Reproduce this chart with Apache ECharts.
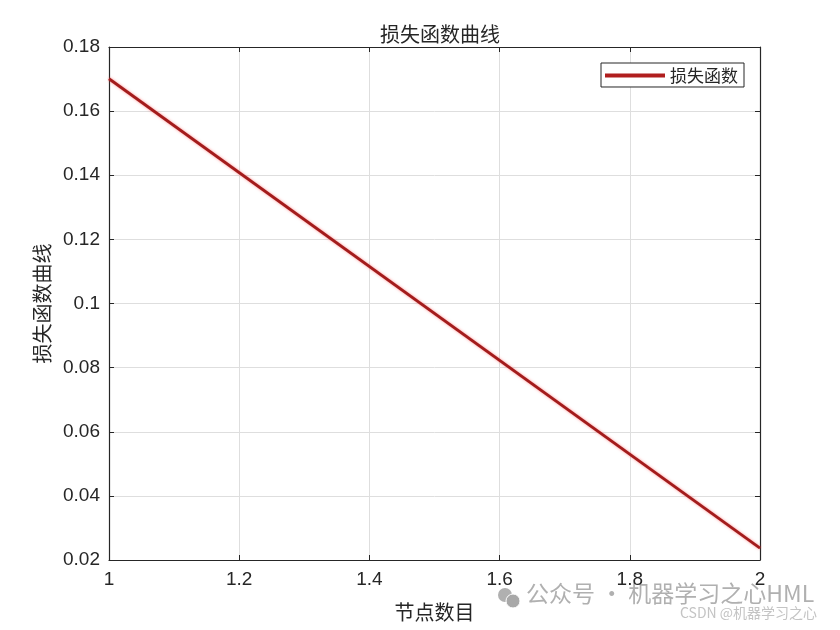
<!DOCTYPE html>
<html>
<head>
<meta charset="utf-8">
<script src="https://cdn.jsdelivr.net/npm/echarts@6/dist/echarts.min.js"></script>
<style>html,body{margin:0;padding:0;background:#fff}#c{width:840px;height:630px}</style>
</head>
<body>
<div id="c"></div>
<script>
const nodeCounts = [1, 2];
const lossValues = [0.1701, 0.0237];
const titleText = '损失函数曲线';
const xName = '节点数目';
const yName = '损失函数曲线';
const seriesName = '损失函数';

const chart = echarts.init(document.getElementById('c'));
const cjk = '"Noto Sans CJK SC", sans-serif';
const latin = '"Liberation Sans", Arial, sans-serif';
const axisColor = '#262626';
chart.setOption({
  backgroundColor: '#fff',
  animation: false,
  title: {
    text: titleText, left: 435, top: 19, textAlign: 'center',
    textStyle: { fontFamily: cjk, fontSize: 20, fontWeight: 'normal', color: '#262626' }
  },
  legend: {
    data: [seriesName], right: 96, top: 63,
    borderColor: axisColor, borderWidth: 1, backgroundColor: '#fff',
    padding: [4, 6, 3, 4], itemWidth: 60, itemHeight: 4, itemGap: 4,
    icon: 'rect',
    textStyle: { fontFamily: cjk, fontSize: 17, color: '#262626' }
  },
  grid: { left: 109, right: 80, top: 47, bottom: 70 },
  xAxis: [{
    type: 'value', min: 1, max: 2, interval: 0.2,
    name: xName, nameLocation: 'middle', nameGap: 42,
    nameTextStyle: { fontFamily: cjk, fontSize: 20, color: '#262626' },
    axisLine: { show: true, lineStyle: { color: axisColor, width: 1.2 } },
    axisTick: { show: true, inside: true, length: 5, lineStyle: { color: axisColor } },
    axisLabel: { fontFamily: latin, fontSize: 19, color: '#262626', margin: 10 },
    splitLine: { show: true, lineStyle: { color: '#dedede', width: 1 } }
  }, {
    type: 'value', min: 1, max: 2, interval: 0.2, position: 'top',
    axisLine: { show: true, lineStyle: { color: axisColor, width: 1.2 } },
    axisTick: { show: true, inside: true, length: 5, lineStyle: { color: axisColor } },
    axisLabel: { show: false }, splitLine: { show: false }
  }],
  yAxis: [{
    type: 'value', min: 0.02, max: 0.18, interval: 0.02,
    name: yName, nameLocation: 'middle', nameGap: 57,
    nameTextStyle: { fontFamily: cjk, fontSize: 20, color: '#262626' },
    axisLine: { show: true, lineStyle: { color: axisColor, width: 1.2 } },
    axisTick: { show: true, inside: true, length: 5, lineStyle: { color: axisColor } },
    axisLabel: { fontFamily: latin, fontSize: 19, color: '#262626', margin: 9,
      formatter: v => String(parseFloat(v.toFixed(2))) },
    splitLine: { show: true, lineStyle: { color: '#dedede', width: 1 } }
  }, {
    type: 'value', min: 0.02, max: 0.18, interval: 0.02, position: 'right',
    axisLine: { show: true, lineStyle: { color: axisColor, width: 1.2 } },
    axisTick: { show: true, inside: true, length: 5, lineStyle: { color: axisColor } },
    axisLabel: { show: false }, splitLine: { show: false }
  }],
  series: [{
    name: seriesName, type: 'line',
    data: nodeCounts.map((x, i) => [x, lossValues[i]]),
    showSymbol: false, symbol: 'none',
    itemStyle: { color: '#B01E1E' },
    lineStyle: { color: '#A31C1C', width: 2.8, shadowColor: 'rgba(255,80,80,0.6)', shadowBlur: 3 }
  }],
  graphic: [
    { type: 'circle', shape: { cx: 505, cy: 595, r: 7 }, style: { fill: '#b0b0b0' } },
    { type: 'circle', shape: { cx: 513, cy: 601, r: 7 }, style: { fill: '#a8a8a8', stroke: '#fff', lineWidth: 1 } },
    { type: 'text', left: 526, top: 582, style: { text: '公众号 · 机器学习之心HML', fontFamily: cjk, fontSize: 23, fill: '#b0b0b0' } },
    { type: 'text', left: 680, top: 606, style: { text: 'CSDN @机器学习之心', fontFamily: cjk, fontSize: 14, fill: '#c4c4c4' } }
  ]
});
</script>
</body>
</html>
